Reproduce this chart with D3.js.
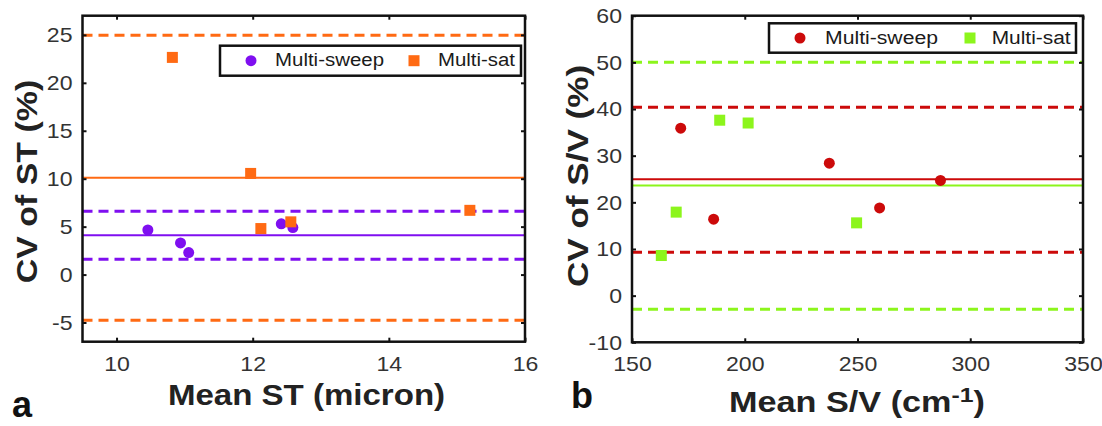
<!DOCTYPE html>
<html>
<head>
<meta charset="utf-8">
<script src="https://cdn.jsdelivr.net/npm/d3@7"></script>
<style>
  html, body { margin: 0; padding: 0; background: #fff; }
  svg { display: block; }
</style>
</head>
<body>
<svg id="chart" width="1102" height="426"></svg>
<script>
'use strict';

// panel a: ST
var stXTicks = [10, 12, 14, 16];
var stYTicks = [-5, 0, 5, 10, 15, 20, 25];
var stSweepX = [10.46, 10.94, 11.06, 12.42, 12.59];
var stSweepY = [4.65, 3.3, 2.3, 5.3, 4.9];
var stSatX = [10.82, 11.97, 12.12, 12.56, 15.19];
var stSatY = [22.65, 10.55, 4.8, 5.5, 6.7];
// mean, upper limit, lower limit
var stSweepLines = [4.1, 6.6, 1.6];
var stSatLines = [10.1, 24.95, -4.75];

// panel b: S/V
var svXTicks = [150, 200, 250, 300, 350];
var svYTicks = [-10, 0, 10, 20, 30, 40, 50, 60];
var svSweepX = [171.6, 186.2, 237.5, 259.8, 286.8];
var svSweepY = [35.9, 16.4, 28.4, 18.8, 24.7];
var svSatX = [163.0, 169.6, 188.9, 201.5, 249.6];
var svSatY = [8.6, 17.9, 37.6, 37.0, 15.6];
var svSweepLines = [24.95, 40.4, 9.3];
var svSatLines = [23.6, 50.0, -2.9];

var seriesNames = ['Multi-sweep', 'Multi-sat'];

var FONT = '"Liberation Sans", Arial, Helvetica, sans-serif';
var svg = d3.select('#chart');

// plain hyphen for negatives, like the original
function tickFmt(d) { return String(d); }

function drawPanel(p) {
    var x = d3.scaleLinear().domain(p.xDomain).range([p.left, p.right]);
    var y = d3.scaleLinear().domain(p.yDomain).range([p.bottom, p.top]);
    var g = svg.append('g');

    // reference lines: mean solid, limits dashed
    function refLines(vals, color) {
        vals.forEach(function(v, i) {
            g.append('line')
                .attr('x1', x(p.xDomain[0])).attr('x2', x(p.xDomain[1]))
                .attr('y1', y(v)).attr('y2', y(v))
                .attr('stroke', color)
                .attr('stroke-width', i === 0 ? 2 : 3)
                .attr('stroke-dasharray', i === 0 ? null : '10,6');
        });
    }
    refLines(p.sweepLines, p.sweepColor);
    refLines(p.satLines, p.satColor);

    // axes, ticks pointing inward
    function styleAxis(sel) {
        sel.select('.domain').remove();
        sel.attr('font-family', FONT).attr('font-size', 21);
        sel.selectAll('.tick line').attr('stroke', '#111').attr('stroke-width', 2);
        sel.selectAll('.tick text')
            .attr('fill', '#333')
            .each(function() {
                // the original's digits are a bit wider than Arial's
                var len = this.getComputedTextLength();
                if (len > 0) {
                    d3.select(this).attr('textLength', len * 1.1).attr('lengthAdjust', 'spacingAndGlyphs');
                }
            });
    }
    g.append('g').attr('transform', 'translate(0,' + p.bottom + ')')
        .call(d3.axisBottom(x).tickValues(p.xTicks).tickFormat(tickFmt).tickSize(-4).tickSizeOuter(0).tickPadding(14))
        .call(styleAxis);
    g.append('g').attr('transform', 'translate(0,' + p.top + ')')
        .call(d3.axisTop(x).tickValues(p.xTicks).tickSize(-4).tickSizeOuter(0).tickFormat(''))
        .call(styleAxis);
    g.append('g').attr('transform', 'translate(' + p.left + ',0)')
        .call(d3.axisLeft(y).tickValues(p.yTicks).tickFormat(tickFmt).tickSize(-4).tickSizeOuter(0).tickPadding(10))
        .call(styleAxis);
    g.append('g').attr('transform', 'translate(' + p.right + ',0)')
        .call(d3.axisRight(y).tickValues(p.yTicks).tickSize(-4).tickSizeOuter(0).tickFormat(''))
        .call(styleAxis);

    g.append('rect')
        .attr('x', p.left).attr('y', p.top)
        .attr('width', p.right - p.left).attr('height', p.bottom - p.top)
        .attr('fill', 'none').attr('stroke', '#111').attr('stroke-width', 2.5);

    // points
    g.selectAll('circle.sweep').data(p.sweepX).enter().append('circle')
        .attr('class', 'sweep')
        .attr('cx', function(d) { return x(d); })
        .attr('cy', function(d, i) { return y(p.sweepY[i]); })
        .attr('r', 5.5)
        .attr('fill', p.sweepColor);
    g.selectAll('rect.sat').data(p.satX).enter().append('rect')
        .attr('class', 'sat')
        .attr('x', function(d) { return x(d) - 5.5; })
        .attr('y', function(d, i) { return y(p.satY[i]) - 5.5; })
        .attr('width', 11).attr('height', 11)
        .attr('fill', p.satColor);

    // legend
    var lg = p.legend;
    g.append('rect')
        .attr('x', lg.x).attr('y', lg.y).attr('width', lg.w).attr('height', lg.h)
        .attr('fill', '#fff').attr('stroke', '#111').attr('stroke-width', 2.5);
    var my = lg.y + lg.h / 2;
    g.append('circle').attr('cx', lg.x + 31).attr('cy', my).attr('r', 5.5).attr('fill', p.sweepColor);
    g.append('rect').attr('x', lg.x + lg.sqX - 5.5).attr('y', my - 5.5)
        .attr('width', 11).attr('height', 11).attr('fill', p.satColor);
    [0, 1].forEach(function(i) {
        g.append('text')
            .attr('x', lg.x + lg.textX[i]).attr('y', lg.y + lg.base)
            .attr('textLength', lg.textW[i]).attr('lengthAdjust', 'spacingAndGlyphs')
            .attr('fill', '#1a1a1a')
            .style('font-family', FONT).style('font-size', '18px')
            .text(seriesNames[i]);
    });

    // axis titles
    g.append('text')
        .attr('transform', 'translate(' + p.yLabel.x + ',' + p.yLabel.y + ') rotate(-90) scale(' + p.yLabel.sx + ',1)')
        .attr('text-anchor', 'middle')
        .attr('fill', '#222')
        .style('font-family', FONT).style('font-size', '30px').style('font-weight', 'bold')
        .text(p.yLabel.text);

    var xl = g.append('text')
        .attr('transform', 'translate(' + p.xLabel.x + ',' + p.xLabel.y + ') scale(' + p.xLabel.sx + ',1)')
        .attr('text-anchor', 'middle')
        .attr('fill', '#222')
        .style('font-family', FONT).style('font-size', '29px').style('font-weight', 'bold');
    xl.append('tspan').text(p.xLabel.text);
    if (p.xLabel.sup) {
        xl.append('tspan').attr('dy', -10).style('font-size', '21px').text(p.xLabel.sup);
        xl.append('tspan').attr('dy', 10).text(')');
    }

    // panel letter
    g.append('text')
        .attr('x', p.letter.x).attr('y', p.letter.y)
        .attr('fill', '#111')
        .style('font-family', FONT).style('font-size', '36px').style('font-weight', 'bold')
        .text(p.letter.text);
}

drawPanel({
    left: 82.5, right: 525, top: 15.7, bottom: 341.7,
    xDomain: [9.5, 16], yDomain: [-7, 27],
    xTicks: stXTicks, yTicks: stYTicks,
    sweepX: stSweepX, sweepY: stSweepY, satX: stSatX, satY: stSatY,
    sweepLines: stSweepLines, satLines: stSatLines,
    sweepColor: '#7f0ff0', satColor: '#ff6a13',
    legend: { x: 220, y: 45.7, w: 301, h: 30, sqX: 194, textX: [55, 218], textW: [109, 77], base: 20.5 },
    yLabel: { x: 37, y: 181.5, sx: 1.13, text: 'CV of ST (%)' },
    xLabel: { x: 306.5, y: 405, sx: 1.14, text: 'Mean ST (micron)' },
    letter: { x: 12, y: 417, text: 'a' }
});

drawPanel({
    left: 632, right: 1083, top: 15.7, bottom: 342.3,
    xDomain: [150, 350], yDomain: [-10, 60],
    xTicks: svXTicks, yTicks: svYTicks,
    sweepX: svSweepX, sweepY: svSweepY, satX: svSatX, satY: svSatY,
    sweepLines: svSweepLines, satLines: svSatLines,
    sweepColor: '#cc0a0a', satColor: '#8cf51c',
    legend: { x: 769, y: 23.3, w: 307, h: 29.4, sqX: 201, textX: [56, 222.7], textW: [113, 79], base: 20.7 },
    yLabel: { x: 588, y: 176, sx: 1.17, text: 'CV of S/V (%)' },
    xLabel: { x: 857, y: 412, sx: 1.18, text: 'Mean S/V (cm', sup: '-1' },
    letter: { x: 571, y: 408, text: 'b' }
});
</script>
</body>
</html>
